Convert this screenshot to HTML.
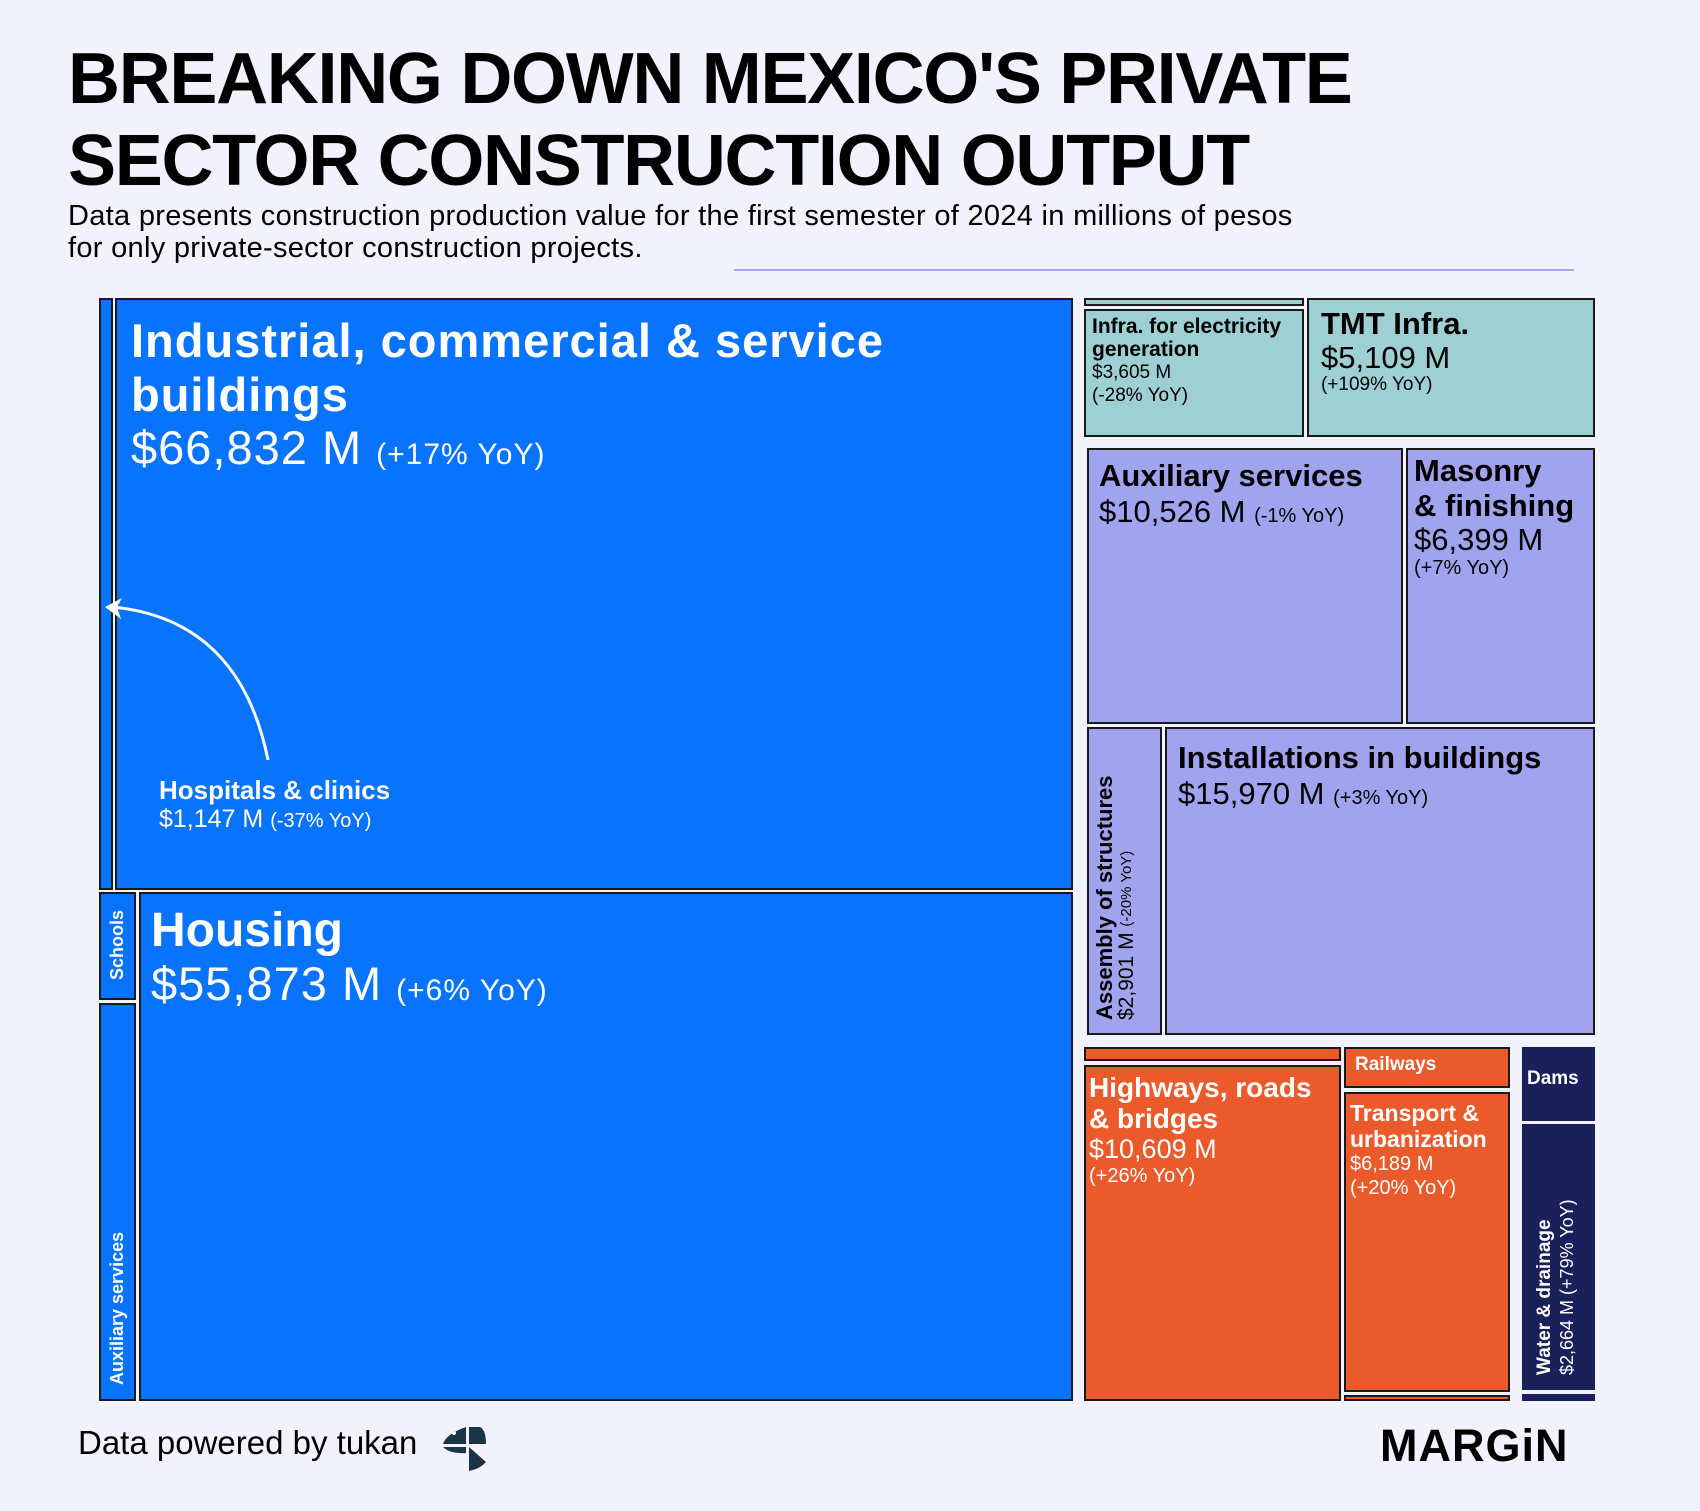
<!DOCTYPE html>
<html><head><meta charset="utf-8">
<style>
body{margin:0;width:1700px;height:1511px;background:#f2f2fd;font-family:"Liberation Sans",sans-serif;position:relative;overflow:hidden;color:#000}
.abs{position:absolute}
h1{position:absolute;left:68px;top:38px;margin:0;font-size:72px;line-height:82px;font-weight:bold;letter-spacing:-1.3px;white-space:nowrap}
.sub{left:68px;top:200px;font-size:29px;line-height:32px;white-space:nowrap;letter-spacing:0.3px}
.box{position:absolute;box-sizing:border-box;border:2px solid #1a1a1a;overflow:hidden}
.lbl{position:absolute;white-space:nowrap}
.b{font-weight:bold}
.v{writing-mode:vertical-rl;transform:rotate(180deg)}
</style></head><body>
<h1>BREAKING DOWN MEXICO'S PRIVATE<br>SECTOR CONSTRUCTION OUTPUT</h1>
<div class="abs sub">Data presents construction production value for the first semester of 2024 in millions of pesos<br>for only private-sector construction projects.</div>
<div class="abs" style="left:734px;top:269px;width:840px;height:2px;background:#a4a6f0"></div>
<div id="chart"></div>
<div class="abs" style="left:78px;top:1424px;font-size:33px">Data powered by tukan</div>
<svg class="abs" style="left:442px;top:1424px" width="50" height="50">
<path d="M24 3 L24 20 L1 20 Q4 10 24 3 Z" fill="#1c3448"/><circle cx="12" cy="9" r="2" fill="#f2f2fd"/>
<path d="M27 3 L38 3 Q44 6 44 20 L27 20 Z" fill="#1c3448"/>
<path d="M1 23 L24 23 L24 29 Q8 30 1 23 Z" fill="#1c3448"/>
<path d="M27 23 L44 38 Q38 45 27 47 Z" fill="#1c3448"/>
</svg>
<div class="abs b" style="left:1380px;top:1420px;font-size:45px;letter-spacing:1px">MARGiN</div>
<script>
// data
const names=["Industrial, commercial & service buildings","Hospitals & clinics","Housing","Schools","Auxiliary services","Infra. for electricity generation","TMT Infra.","Auxiliary services","Masonry & finishing","Assembly of structures","Installations in buildings","Highways, roads & bridges","Railways","Transport & urbanization","Dams","Water & drainage","Electricity (other)","Roads (other)","Transport (other)","Water (other)"];
const values=[66832,1147,55873,null,null,3605,5109,10526,6399,2901,15970,10609,null,6189,null,2664,null,null,null,null];
const yoy=["+17%","-37%","+6%",null,null,"-28%","+109%","-1%","+7%","-20%","+3%","+26%",null,"+20%",null,"+79%",null,null,null,null];
const groups=["bld","bld","bld","bld","bld","ele","ele","spc","spc","spc","spc","trn","trn","trn","wat","wat","ele","trn","trn","wat"];
// layout (geometry, not data)
const rects=[[115,298,958,592],[99,298,14,592],[139,892,934,509],[99,892,37,108],[99,1003,37,398],[1084,309,220,128],[1307,298,288,139],[1087,448,316,276],[1406,448,189,276],[1087,727,75,308],[1165,727,430,308],[1084,1065,257,336],[1344,1047,166,41],[1344,1092,166,300],[1522,1047,73,74],[1522,1124,73,266],[1084,298,220,8],[1084,1047,257,14],[1344,1395,166,6],[1522,1394,73,7]];
const fills={bld:"#0873fc",ele:"#9dcfd3",spc:"#a0a4ef",trn:"#eb5a2b",wat:"#19205a"};
const fmt=v=>"$"+v.toLocaleString("en-US")+" M";
const chart=document.getElementById('chart');
rects.forEach((r,i)=>{
  const d=document.createElement('div');
  d.className='box';
  
  
  d.style.cssText=`left:${r[0]}px;top:${r[1]}px;width:${r[2]}px;height:${r[3]}px;background:${fills[groups[i]]};`+(groups[i]=='wat'?'border-color:#19205a;':'');
  chart.appendChild(d);
});
function label(i,x,y,html,style){
  const l=document.createElement('div');
  l.className='lbl';
  
  
  l.style.cssText=`left:${x}px;top:${y}px;`+style;
  l.innerHTML=html;
  document.body.appendChild(l);
}
const W='color:#fff;';
label(0,131,314,`<div class="b" style="font-size:47px;line-height:54px;letter-spacing:1px">Industrial, commercial &amp; service<br>buildings</div><div style="font-size:47px;line-height:52px;letter-spacing:1px">${fmt(values[0])} <span style="font-size:30px">(${yoy[0]} YoY)</span></div>`,W);
label(1,159,775,`<div class="b" style="font-size:26px;line-height:30px">${names[1]}</div><div style="font-size:25px;line-height:28px">${fmt(values[1])} <span style="font-size:20px">(${yoy[1]} YoY)</span></div>`,W);
label(2,151,903,`<div class="b" style="font-size:48px;line-height:56px">${names[2]}</div><div style="font-size:47px;line-height:50px;letter-spacing:1px">${fmt(values[2])} <span style="font-size:30px">(${yoy[2]} YoY)</span></div>`,W);
label(3,107,900,`<div class="b v" style="font-size:18px;height:90px;text-align:center">${names[3]}</div>`,W);
label(4,107,1200,`<div class="b v" style="font-size:18px;height:185px">${names[4]}</div>`,W);
label(5,1092,315,`<div class="b" style="font-size:21px;line-height:23px">Infra. for electricity<br>generation</div><div style="font-size:19px;line-height:23px">${fmt(values[5])}<br>(${yoy[5]} YoY)</div>`,'');
label(6,1321,306,`<div class="b" style="font-size:31px;line-height:36px">${names[6]}</div><div style="font-size:31px;line-height:32px">${fmt(values[6])}</div><div style="font-size:19px">(${yoy[6]} YoY)</div>`,'');
label(7,1099,457,`<div class="b" style="font-size:31px;line-height:38px">${names[7]}</div><div style="font-size:31px;line-height:34px">${fmt(values[7])} <span style="font-size:20px">(${yoy[7]} YoY)</span></div>`,'');
label(8,1414,453,`<div class="b" style="font-size:31px;line-height:35px">Masonry<br>&amp; finishing</div><div style="font-size:31px;line-height:34px">${fmt(values[8])}</div><div style="font-size:20px">(${yoy[8]} YoY)</div>`,'');
label(9,1094,745,`<div class="v" style="height:275px;line-height:22px"><span class="b" style="font-size:22px">${names[9]}</span><br><span style="font-size:21px">${fmt(values[9])} <span style="font-size:15px">(${yoy[9]} YoY)</span></span></div>`,'');
label(10,1178,739,`<div class="b" style="font-size:31px;line-height:38px">${names[10]}</div><div style="font-size:31px;line-height:34px">${fmt(values[10])} <span style="font-size:20px">(${yoy[10]} YoY)</span></div>`,'');
label(11,1089,1072,`<div class="b" style="font-size:28px;line-height:31px">Highways, roads<br>&amp; bridges</div><div style="font-size:27px;line-height:31px">${fmt(values[11])}</div><div style="font-size:20px">(${yoy[11]} YoY)</div>`,W);
label(12,1355,1054,`<div class="b" style="font-size:19px">${names[12]}</div>`,W);
label(13,1350,1100,`<div class="b" style="font-size:23px;line-height:26px">Transport &amp;<br>urbanization</div><div style="font-size:20px;line-height:24px">${fmt(values[13])}<br>(${yoy[13]} YoY)</div>`,W);
label(14,1527,1068,`<div class="b" style="font-size:19px">${names[14]}</div>`,W);
label(15,1534,1182,`<div class="v" style="height:193px;line-height:22px"><span class="b" style="font-size:19px">${names[15]}</span><br><span style="font-size:18px">${fmt(values[15])} (${yoy[15]} YoY)</span></div>`,W);
</script>
<svg class="abs" style="left:100px;top:560px" width="200" height="210">
<path d="M168 200 C150 110 100 55 12 47" fill="none" stroke="#fff" stroke-width="3"/>
<path d="M5 47 L22 38 L17 47 L21 59 Z" fill="#fff"/>
</svg>
</body></html>
